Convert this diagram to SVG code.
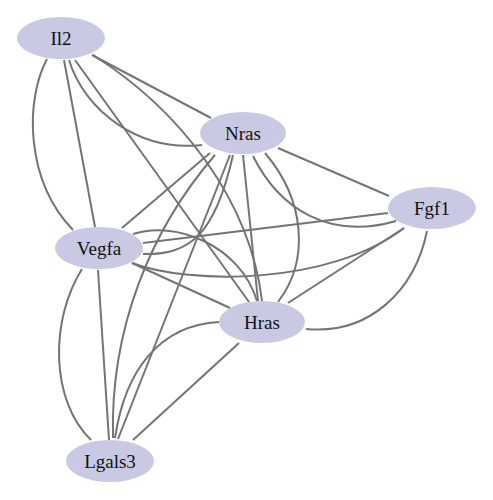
<svg xmlns="http://www.w3.org/2000/svg" width="493" height="500" viewBox="0 0 493 500">
<style>
.e{fill:none;stroke:#747474;stroke-width:2}
.n ellipse{fill:#c9c9e3}
.n text{font-family:"Liberation Serif","Times New Roman",serif;font-size:19px;fill:#111;text-anchor:middle}
</style>
<rect width="493" height="500" fill="#ffffff"/>
<g id="edges">
<path class="e" d="M47,59 C25,100 25,180 73,230"/>
<path class="e" d="M64,60 L95,227"/>
<path class="e" d="M92,55 L211,118"/>
<path class="e" d="M69,60 C85,112 140,152 202,145"/>
<path class="e" d="M75,60 L249,302"/>
<path class="e" d="M93,55 C180,110 250,200 262,301"/>
<path class="e" d="M278,148 L389,196"/>
<path class="e" d="M253,156 C280,210 330,240 396,221"/>
<path class="e" d="M243,155 L258,301"/>
<path class="e" d="M265,153 C305,200 310,260 278,302"/>
<path class="e" d="M210,153 L122,228"/>
<path class="e" d="M143,254 C190,255 215,235 233,155"/>
<path class="e" d="M118,439 L230,155"/>
<path class="e" d="M113,438 C110,330 150,230 215,155"/>
<path class="e" d="M143,243 L388,213"/>
<path class="e" d="M132,263 C190,285 330,285 404,228"/>
<path class="e" d="M404,228 L288,303"/>
<path class="e" d="M427,231 C415,290 370,335 306,329"/>
<path class="e" d="M132,263 L230,308"/>
<path class="e" d="M133,234 C175,220 240,245 257,301"/>
<path class="e" d="M82,269 C50,320 50,400 91,440"/>
<path class="e" d="M98,270 L109,440"/>
<path class="e" d="M133,440 L239,343"/>
<path class="e" d="M115,438 C125,370 160,325 219,322"/>
</g>
<g id="Il2" class="n"><ellipse cx="61" cy="38" rx="44" ry="21"/><text x="61" y="45">Il2</text></g>
<g id="Nras" class="n"><ellipse cx="243" cy="133" rx="43" ry="21"/><text x="243" y="140">Nras</text></g>
<g id="Fgf1" class="n"><ellipse cx="432" cy="208" rx="44" ry="21"/><text x="432" y="215">Fgf1</text></g>
<g id="Vegfa" class="n"><ellipse cx="99" cy="248" rx="44" ry="21"/><text x="99" y="255">Vegfa</text></g>
<g id="Hras" class="n"><ellipse cx="262" cy="322" rx="43" ry="21"/><text x="262" y="329">Hras</text></g>
<g id="Lgals3" class="n"><ellipse cx="110" cy="461" rx="44" ry="21"/><text x="110" y="468">Lgals3</text></g>
</svg>
